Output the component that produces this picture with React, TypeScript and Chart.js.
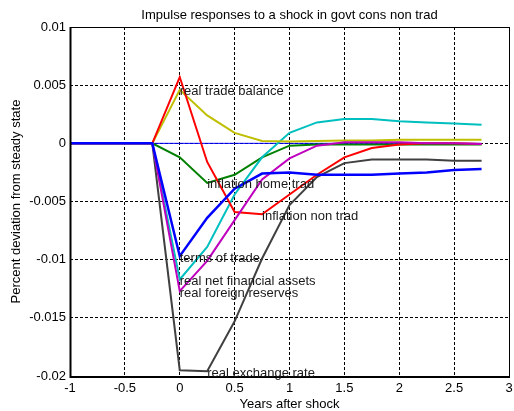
import { useEffect, useRef } from "react";
import { Chart, registerables } from "chart.js";

Chart.register(...registerables);

const years = [-1, -0.75, -0.5, -0.25, 0, 0.25, 0.5, 0.75, 1, 1.25, 1.5, 1.75, 2, 2.25, 2.5, 2.75];

const termsOfTrade = [0, 0, 0, 0, -0.0097, -0.0064, -0.0039, -0.0026, -0.0025, -0.0027, -0.0027, -0.0027, -0.0026, -0.0025, -0.0023, -0.0022];
const realForeignReserves = [0, 0, 0, 0, -0.0127, -0.0101, -0.0066, -0.0031, -0.0013, -0.0002, 0.0001, 0.0001, 0.0001, 0, 0, -0.00005];
const inflationNonTrad = [0, 0, 0, 0, 0.0057, -0.0016, -0.0059, -0.0061, -0.0044, -0.0027, -0.0012, -0.0004, -0.0001, 0, 0, -0.00005];
const realNetFinancialAssets = [0, 0, 0, 0, -0.0117, -0.0089, -0.0044, -0.0012, 0.0009, 0.0018, 0.0021, 0.0021, 0.0019, 0.0018, 0.0017, 0.0016];
const inflationHomeTrad = [0, 0, 0, 0, -0.0012, -0.0034, -0.0027, -0.0012, -0.0002, -0.0001, -0.0001, -0.0001, -0.0001, -0.0001, -0.0001, -0.0001];
const realTradeBalance = [0, 0, 0, 0, 0.0046, 0.0024, 0.0009, 0.0002, 0.00015, 0.0002, 0.00025, 0.00025, 0.0003, 0.0003, 0.0003, 0.0003];
const realExchangeRate = [0, 0, 0, 0, -0.0195, -0.0196, -0.0153, -0.0099, -0.0053, -0.0029, -0.0017, -0.0014, -0.0014, -0.0014, -0.0015, -0.0015];
const steadyState = [0, 0, 0, 0, 0, 0, 0, 0, 0, 0, 0, 0, 0, 0, 0, 0];

const xTicks = [-1, -0.5, 0, 0.5, 1, 1.5, 2, 2.5, 3];
const yTicks = [-0.02, -0.015, -0.01, -0.005, 0, 0.005, 0.01];

const titleText = "Impulse responses to a shock in govt cons non trad";
const xTitle = "Years after shock";
const yTitle = "Percent deviation from steady state";

// label text, series, index of anchor point
const labels: [string, number[], number][] = [
  ["real trade balance", realTradeBalance, 4],
  ["inflation home trad", inflationHomeTrad, 5],
  ["inflation non trad", inflationNonTrad, 7],
  ["terms of trade", termsOfTrade, 4],
  ["real net financial assets", realNetFinancialAssets, 4],
  ["real foreign reserves", realForeignReserves, 4],
  ["real exchange rate", realExchangeRate, 5],
];

const FONT = "Liberation Sans, Arial, Helvetica, sans-serif";
const FS = 13;

const pts = (arr: number[]) => arr.map((v, i) => ({ x: years[i], y: v }));

const fmt = (v: number) => String(Number(Number(v).toFixed(4)));

export default function App() {
  const ref = useRef<HTMLCanvasElement>(null);
  useEffect(() => {
    document.body.style.margin = "0";
    const canvas = ref.current!;
    const overlay = {
      id: "overlay",
      afterDatasetsDraw(chart: any) {
        const { ctx, chartArea: a, scales } = chart;
        const x = scales.x;
        const y = scales.y;
        ctx.save();
        ctx.setLineDash([]);
        ctx.strokeStyle = "#000";
        ctx.lineWidth = 1;
        const L = Math.round(a.left), R = Math.round(a.right), T = Math.round(a.top), B = Math.round(a.bottom);
        ctx.strokeRect(L + 0.5, T + 0.5, R - L, B - T);
        ctx.lineWidth = 2;
        ctx.beginPath();
        ctx.moveTo(L + 0.5, T);
        ctx.lineTo(L + 0.5, B + 1);
        ctx.lineTo(R + 1, B + 1);
        ctx.stroke();
        // annotations
        ctx.fillStyle = "#1a1a1a";
        ctx.font = `${FS}px ${FONT}`;
        ctx.textAlign = "left";
        ctx.textBaseline = "middle";
        for (const [t, s, i] of labels) {
          ctx.fillText(t, x.getPixelForValue(years[i]), y.getPixelForValue(s[i]) + 2);
        }
        ctx.restore();
      },
      afterDraw(chart: any) {
        const { ctx, chartArea: a } = chart;
        ctx.save();
        ctx.fillStyle = "#000";
        ctx.font = `${FS}px ${FONT}`;
        ctx.textAlign = "center";
        ctx.textBaseline = "middle";
        const cx = (a.left + a.right) / 2;
        ctx.fillText(titleText, cx, 15);
        ctx.fillText(xTitle, cx, 404);
        ctx.translate(16, (a.top + a.bottom) / 2);
        ctx.rotate(-Math.PI / 2);
        ctx.fillText(yTitle, 0, 0);
        ctx.restore();
      },
    };
    const ds = (label: string, data: number[], color: string, width = 2) => ({
      label,
      data: pts(data),
      borderColor: color,
      backgroundColor: color,
      borderWidth: width,
      pointRadius: 0,
      tension: 0,
      fill: false,
    });
    const chart = new Chart(canvas, {
      type: "line",
      data: {
        datasets: [
          ds("terms of trade", termsOfTrade, "#0000ff", 2.5),
          ds("real foreign reserves", realForeignReserves, "#bf00bf"),
          ds("inflation non trad", inflationNonTrad, "#ff0000"),
          ds("real trade balance", realTradeBalance, "#bfbf00"),
          ds("real net financial assets", realNetFinancialAssets, "#00bfbf"),
          ds("inflation home trad", inflationHomeTrad, "#008000"),
          ds("real exchange rate", realExchangeRate, "#404040"),
          ds("steady state", steadyState, "#0000ff", 1),
        ],
      },
      options: {
        animation: false,
        responsive: false,
        devicePixelRatio: 1,
        layout: { padding: { top: 27, right: 5, left: 0, bottom: 0 } },
        plugins: { legend: { display: false }, title: { display: false }, tooltip: { enabled: false } },
        scales: {
          x: {
            type: "linear",
            min: -1,
            max: 3,
            afterBuildTicks: (s: any) => {
              s.ticks = xTicks.map((v) => ({ value: v }));
            },
            afterFit: (s: any) => {
              s.height = 35;
            },
            ticks: {
              autoSkip: false,
              maxRotation: 0,
              padding: 0,
              color: "#000",
              font: { family: FONT, size: FS },
              callback: (v: any) => fmt(v),
            },
            grid: { color: "#000", lineWidth: 1, drawTicks: true, tickLength: 5, tickColor: "rgba(0,0,0,0)" },
            border: { display: false, dash: [3, 2] },
          },
          y: {
            type: "linear",
            min: -0.02,
            max: 0.01,
            afterBuildTicks: (s: any) => {
              s.ticks = yTicks.map((v) => ({ value: v }));
            },
            afterFit: (s: any) => {
              s.width = 70;
            },
            ticks: {
              autoSkip: false,
              padding: 4,
              color: "#000",
              font: { family: FONT, size: FS },
              callback: (v: any) => fmt(v),
            },
            grid: { color: "#000", lineWidth: 1, drawTicks: false },
            border: { display: false, dash: [3, 2] },
          },
        },
      },
      plugins: [overlay],
    } as any);
    return () => chart.destroy();
  }, []);
  return (
    <div style={{ position: "fixed", left: 0, top: 0, width: 514, height: 411, background: "#fff" }}>
      <canvas ref={ref} width={514} height={411} style={{ display: "block" }} />
    </div>
  );
}
